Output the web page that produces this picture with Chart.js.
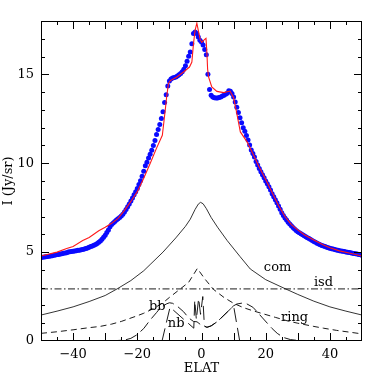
<!DOCTYPE html>
<html>
<head>
<meta charset="utf-8">
<script src="https://cdn.jsdelivr.net/npm/chart.js@4.4.1/dist/chart.umd.min.js"></script>
<style>
html,body{margin:0;padding:0;background:#fff;}
#c{display:block;}
</style>
</head>
<body>
<canvas id="c" width="382" height="382"></canvas>
<script>
// ---- observed data (blue points) ----
const dataElat = [
 -50,-49.5,-49,-48.5,-48,-47.5,-47,-46.5,-46,-45.5,-45,-44.5,-44,-43.5,-43,-42.5,-42,-41.5,-41,-40.5,-40,-39.5,-39,-38.5,-38,-37.5,-37,-36.5,-36,-35.5,
 -35,-34.5,-34,-33.5,-33,-32.5,-32,-31.5,-31,-30.5,-30,-29.5,-29,-28.5,-28,-27.5,-27,-26.5,-26,-25.5,-25,-24.5,-24,-23.5,-23,-22.5,-22,
 -21.5,-21,-20.5,-20,-19.5,-19,-18.5,-18,-17.5,-17,-16.5,-16,-15.5,-15,-14.5,-14,-13.5,-13,-12.5,-12,-11.5,-11,-10.5,-10,
 -9.5,-9,-8.5,-8,-7.5,-7,-6.5,-6,-5.5,-5,-4.5,-4,-3.5,-3,-2.5,-2,-1.5,-1,-0.5,0,0.5,1,1.5,2,2.5,3,3.5,4,4.5,5,5.5,6,6.5,7,7.5,8,8.5,9,9.5,
 10,10.5,11,11.5,12,12.5,13,13.5,14,14.5,15,15.5,16,16.5,17,17.5,18,18.5,19,19.5,20,20.5,21,21.5,
 22,22.5,23,23.5,24,24.5,25,25.5,26,26.5,27,27.5,28,28.5,29,29.5,30,30.5,31,31.5,32,32.5,33,33.5,34,34.5,35,35.5,
 36,36.5,37,37.5,38,38.5,39,39.5,40,40.5,41,41.5,42,42.5,43,43.5,44,44.5,45,45.5,46,46.5,47,47.5,48,48.5,49,49.5,50
];
const dataI = [
 4.70,4.71,4.72,4.74,4.75,4.77,4.78,4.80,4.82,4.84,4.86,4.87,4.89,4.91,4.93,4.95,4.97,5.00,5.02,5.03,5.05,5.06,5.08,5.10,5.11,5.13,5.15,5.17,5.20,5.23,
 5.27,5.31,5.35,5.39,5.43,5.49,5.55,5.63,5.72,5.83,5.95,6.10,6.25,6.42,6.55,6.64,6.72,6.80,6.88,6.95,7.03,7.13,7.25,7.40,7.55,7.71,7.88,
 8.05,8.22,8.40,8.58,8.80,9.02,9.27,9.55,9.86,10.05,10.30,10.50,10.73,11.00,11.28,11.62,11.90,12.18,12.52,12.90,13.42,13.85,14.35,14.62,
 14.74,14.79,14.82,14.85,14.90,14.97,15.05,15.15,15.28,15.48,15.74,16.02,16.25,16.72,17.29,17.38,17.29,17.10,16.92,16.82,16.65,16.40,16.10,15.00,14.15,13.82,13.72,13.68,13.67,13.67,13.70,13.73,13.78,13.83,13.88,13.93,14.08,14.05,13.92,
 13.72,13.44,13.15,12.85,12.56,12.28,12.00,11.80,11.56,11.30,11.03,10.75,10.55,10.35,10.10,9.90,9.70,9.52,9.35,9.18,9.00,8.84,8.68,8.50,
 8.28,8.12,7.95,7.78,7.60,7.41,7.22,7.06,6.92,6.80,6.68,6.58,6.48,6.39,6.30,6.22,6.15,6.09,6.03,5.97,5.92,5.86,5.81,5.76,5.71,5.65,5.60,5.55,
 5.50,5.45,5.41,5.37,5.34,5.31,5.28,5.25,5.22,5.19,5.17,5.14,5.12,5.10,5.08,5.06,5.05,5.03,5.01,4.99,4.98,4.96,4.94,4.92,4.91,4.89,4.87,4.85,4.83
];

// ---- total model (red line) ----
const modelElat = [-50,-45,-42,-40,-37,-35,-32,-30,-28,-26,-24,-22,-20,-18,-16,-14,-12.2,-11.3,-10.8,-10.3,-9.7,-7.7,-5.6,-3.75,-3.0,-2.5,-2.0,-1.45,-1.0,-0.4,0.1,0.9,1.4,1.7,1.9,2.2,3.2,4.8,6.9,8.9,10.0,10.8,12.1,14.2,16.25,18,20,22,24,26,28,30,32,35,38,40,43,46,50];
const modelI    = [4.78,5.0,5.2,5.32,5.65,5.82,6.2,6.4,6.62,6.9,7.35,7.85,8.4,9.15,9.98,10.85,11.57,12.98,13.82,14.48,14.65,14.85,15.13,15.41,15.69,16.72,17.47,17.88,17.47,16.95,16.8,16.95,17.02,16.16,15.3,14.85,14.29,14.04,13.97,14.06,13.68,12.98,11.76,11.2,10.45,9.78,9.08,8.35,7.62,7.0,6.55,6.25,5.98,5.68,5.4,5.25,5.07,4.95,4.78];

// ---- components ----
const comElat = [-50,-45,-40,-35,-30,-26.3,-22,-18,-16,-12,-8,-5,-3.5,-2,-1,-0.3,0.5,1.5,3,5,8,12,15.2,20,26.2,30,35,40,45,50];
const comI    = [1.46,1.68,1.92,2.22,2.56,2.93,3.4,3.95,4.3,5.0,5.8,6.45,6.85,7.4,7.7,7.8,7.72,7.45,6.95,6.4,5.65,4.75,4.05,3.45,2.93,2.62,2.24,1.92,1.68,1.46];

const isdElat = [-50,50];
const isdI    = [2.93,2.93];

const ringElat = [-50,-45,-40,-35,-31.6,-28,-25,-20,-18,-15,-12,-10,-6.6,-4,-1.3,1,3.75,7,10,13,16,19.4,23,27,30,35,38,42,46,50];
const ringI    = [0.43,0.52,0.63,0.75,0.82,0.95,1.1,1.42,1.56,1.82,2.15,2.45,2.93,3.3,4.08,3.5,2.9,2.45,2.12,1.88,1.7,1.52,1.33,1.12,1.0,0.82,0.72,0.6,0.5,0.4];

const bbElat = [-50,-32,-28,-24,-22,-20.2,-18,-16,-14,-12.9,-11,-10,-9,-7.5,-5.6,-4,-2.5,-1.4,0,1.7,3,5,7,9,10,11,12.6,14,16,17.3,19,20.5,22,23.6,25.5,27.7,31,33,50];
const bbI    = [0,0,0.01,0.05,0.15,0.34,0.7,1.18,1.6,1.85,2.08,2.15,2.12,1.95,1.65,1.3,1.1,1.08,0.88,0.77,0.85,1.1,1.45,1.8,1.98,2.08,2.13,2.1,1.9,1.65,1.3,1.0,0.7,0.43,0.2,0.08,0.01,0,0];

const nbElat = [-50,-12.3,-9.8,-2.4,-2.1,-1.6,-0.9,-0.3,0.4,0.9,1.7,3,5,7,9,10,11.9,50];
const nbI    = [0,0,1.9,0.72,2.3,1.2,2.4,1.5,2.5,0.85,0.77,0.85,1.1,1.45,1.8,1.98,0,0];

// ---- axes / labels ----
const xTickValues = [-40,-20,0,20,40];
const yTickValues = [0,5,10,15];
const curveLabels = ['com','isd','ring','bb','nb'];
const labelElat   = [23.7,38.0,29.0,-13.8,-7.9];
const labelI      = [4.1,3.26,1.29,1.91,0.96];

const pts = (xs, ys) => xs.map((v, i) => ({x: v, y: ys[i]}));
const FONT = 'DejaVu Serif';

const framePlugin = {
  id: 'frame',
  afterDatasetsDraw(chart) {
    const {ctx, chartArea: a, scales: {x, y}} = chart;
    ctx.save();
    ctx.strokeStyle = '#000';
    ctx.lineWidth = 1;
    ctx.strokeRect(Math.round(a.left) + 0.5, Math.round(a.top) + 0.5,
                   Math.round(a.right - a.left) - 1, Math.round(a.bottom - a.top) - 1);
    ctx.beginPath();
    for (let v = -45; v <= 45; v += 5) {
      const px = Math.round(x.getPixelForValue(v)) + 0.5;
      const len = (v % 10 === 0) ? 8 : 4;
      ctx.moveTo(px, a.bottom); ctx.lineTo(px, a.bottom - len);
      ctx.moveTo(px, a.top); ctx.lineTo(px, a.top + len);
    }
    for (let v = 1; v <= 17; v += 1) {
      const py = Math.round(y.getPixelForValue(v)) + 0.5;
      const len = (v % 5 === 0) ? 8 : 4;
      ctx.moveTo(a.left, py); ctx.lineTo(a.left + len, py);
      ctx.moveTo(a.right, py); ctx.lineTo(a.right - len, py);
    }
    ctx.stroke();
    ctx.fillStyle = '#000';
    ctx.font = '13px "' + FONT + '"';
    ctx.textAlign = 'center';
    ctx.textBaseline = 'middle';
    curveLabels.forEach((t, i) => {
      ctx.fillText(t, x.getPixelForValue(labelElat[i]), y.getPixelForValue(labelI[i]));
    });
    ctx.restore();
  }
};

const fmt = v => (v < 0 ? '\u2212' + Math.abs(v) : String(v));

new Chart(document.getElementById('c'), {
  type: 'scatter',
  data: {
    datasets: [
      {label: 'model', data: pts(modelElat, modelI), showLine: true, borderColor: '#ff1a1a', borderWidth: 1.1, pointRadius: 0, tension: 0, order: 1},
      {label: 'data', data: pts(dataElat, dataI), showLine: false, pointRadius: 2.5, pointBackgroundColor: '#0a0aff', pointBorderWidth: 0, order: 2},
      {label: 'com', data: pts(comElat, comI), showLine: true, borderColor: '#000', borderWidth: 0.8, pointRadius: 0, order: 3},
      {label: 'isd', data: pts(isdElat, isdI), showLine: true, borderColor: '#000', borderWidth: 0.9, borderDash: [7,2.5,1.5,2.5], pointRadius: 0, order: 3},
      {label: 'ring', data: pts(ringElat, ringI), showLine: true, borderColor: '#000', borderWidth: 0.9, borderDash: [6,4], pointRadius: 0, order: 3},
      {label: 'bb', data: pts(bbElat, bbI), showLine: true, borderColor: '#000', borderWidth: 0.9, borderDash: [12,5], pointRadius: 0, order: 3},
      {label: 'nb', data: pts(nbElat, nbI), showLine: true, borderColor: '#000', borderWidth: 0.9, borderDash: [14,6], pointRadius: 0, order: 3}
    ]
  },
  options: {
    responsive: false,
    animation: false,
    devicePixelRatio: 1,
    layout: {padding: {top: 21, right: 20, left: 0, bottom: 0}},
    plugins: {legend: {display: false}, tooltip: {enabled: false}},
    scales: {
      x: {
        type: 'linear', min: -50, max: 50,
        afterFit(s) { s.height = 41; },
        afterBuildTicks(s) { s.ticks = xTickValues.map(v => ({value: v})); },
        grid: {display: false, drawTicks: false},
        border: {display: false},
        ticks: {padding: 6, color: '#000', font: {family: FONT, size: 13}, callback: v => fmt(v), maxRotation: 0, autoSkip: false},
        title: {display: true, text: 'ELAT', color: '#000', font: {family: FONT, size: 13}, padding: {top: 0, bottom: 6}}
      },
      y: {
        type: 'linear', min: 0, max: 18,
        afterFit(s) { s.width = 41; },
        afterBuildTicks(s) { s.ticks = yTickValues.map(v => ({value: v})); },
        grid: {display: false, drawTicks: false},
        border: {display: false},
        ticks: {padding: 7, color: '#000', font: {family: FONT, size: 13}, callback: v => fmt(v), autoSkip: false},
        title: {display: true, text: 'I (Jy/sr)', color: '#000', font: {family: FONT, size: 13}, padding: {top: 1, bottom: 0}}
      }
    }
  },
  plugins: [framePlugin]
});
</script>
</body>
</html>
